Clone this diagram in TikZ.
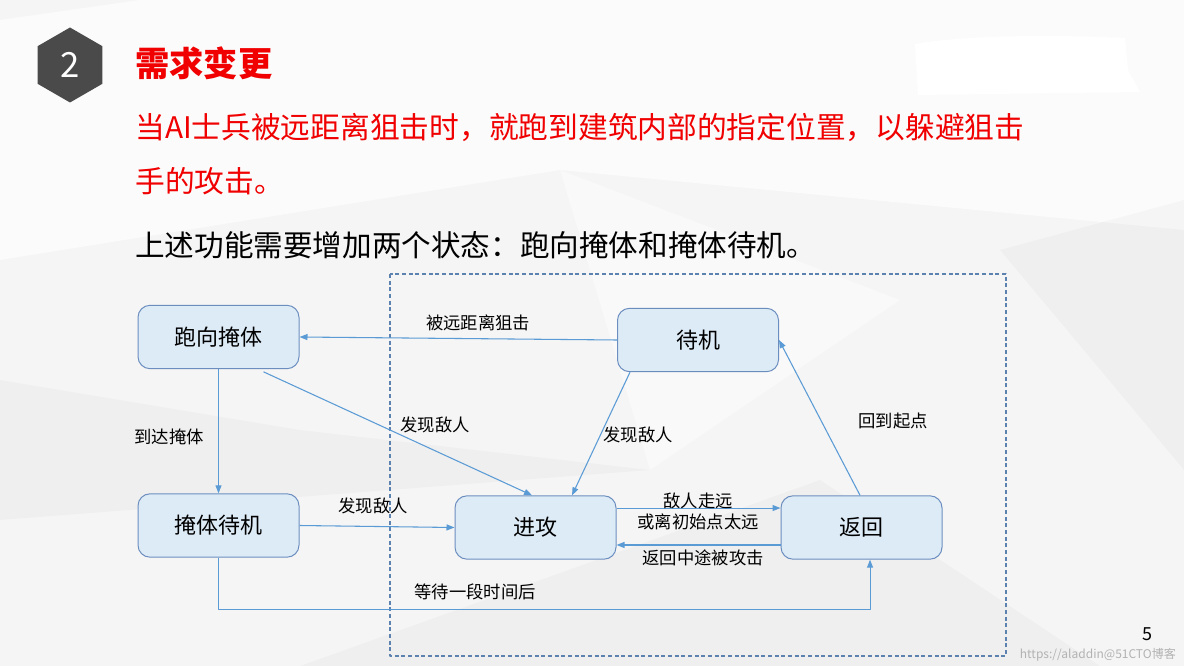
\documentclass[tikz,border=0pt]{standalone}
\usepackage{fontspec}
\setmainfont{Noto Sans CJK SC}
\usetikzlibrary{arrows.meta,shapes.geometric}

\definecolor{statefill}{HTML}{DDEBF7}
\definecolor{stateline}{HTML}{6C8EBF}
\definecolor{arrowblue}{HTML}{5B9BD5}
\definecolor{framecol}{HTML}{5E82B0}
\definecolor{titlered}{HTML}{F00000}
\definecolor{badgegray}{HTML}{4A4A4A}

\tikzset{
  state/.style={draw=stateline, fill=statefill, line width=0.75pt, rounded corners=9pt,
    minimum width=120.75pt, minimum height=47.5pt, font=\fontsize{16.5}{18}\selectfont},
  trans/.style={draw=arrowblue, line width=0.8pt, -{Triangle[length=6pt,width=4.5pt]}},
  lbl/.style={font=\fontsize{13}{15.75}\selectfont, inner sep=0pt, align=center},
  facet/.style={fill=black, opacity=0.025},
}

\begin{document}
\begin{tikzpicture}[x=0.75pt, y=-0.75pt, line join=round]
  % Page size in pixels
  \def\pw{1184} \def\ph{666}
  \useasboundingbox (0,0) rectangle (\pw,\ph);

  % Slide background
  \fill[white!96!black] (0,0) rectangle (\pw,\ph);
  \fill[white, opacity=0.6] (0,0) -- (\pw,0) -- (\pw,230) -- (560,170) -- (0,260) -- cycle;
  \fill[facet] (0,20) -- (140,0) -- (0,0) -- cycle;
  \fill[facet] (0,380) -- (300,430) -- (650,470) -- (0,520) -- cycle;
  \fill[facet] (1000,250) -- (\pw,200) -- (\pw,470) -- cycle;
  \fill[facet] (300,666) -- (820,480) -- (1100,666) -- cycle;
  \fill[white, opacity=0.4] (560,170) -- (900,300) -- (650,470) -- cycle;

  % Covered patch at top right
  \fill[white] (915,44) .. controls (960,36) and (1040,34) .. (1125,38)
    -- (1128,70) -- (1140,92) -- (918,95) -- cycle;

  % Section badge and heading
  \node[regular polygon, regular polygon sides=6, shape border rotate=30, fill=badgegray,
    minimum size=56.25pt, inner sep=0pt] (badge) at (70,65) {};
  \node[text=white, font=\fontsize{26}{28}\selectfont] (badgenum) at (badge.center) {2};
  \node[anchor=west, inner sep=0pt, text=titlered, font=\bfseries\fontsize{25.7}{28}\selectfont]
    (title) at (135,63) {需求变更};
  \node[anchor=west, inner sep=0pt, text=titlered, font=\fontsize{22.3}{24}\selectfont]
    (req1) at (135,128) {当AI士兵被远距离狙击时，就跑到建筑内部的指定位置，以躲避狙击};
  \node[anchor=west, inner sep=0pt, text=titlered, font=\fontsize{22.3}{24}\selectfont]
    (req2) at (135,181) {手的攻击。};
  \node[anchor=west, inner sep=0pt, font=\fontsize{22.2}{24}\selectfont]
    (intro) at (135,245) {上述功能需要增加两个状态：跑向掩体和掩体待机。};

  % Frame round the original states
  \draw[framecol, line width=0.8pt, dash pattern=on 3pt off 2pt] (390,274) rectangle (1006,656);

  % States
  \node[state] (paoxiang) at (218.5,337) {跑向掩体};
  \node[state] (daiji)    at (698,340)   {待机};
  \node[state] (yanti)    at (218.5,525.5) {掩体待机};
  \node[state] (jingong)  at (535.5,527.5) {进攻};
  \node[state] (fanhui)   at (861.5,527.5) {返回};

  % Transitions
  \draw[trans] (daiji.west) -- (paoxiang.east);
  \draw[trans] ([xshift=33.75pt,yshift=-2pt]paoxiang.south) -- ([xshift=-2.6pt]jingong.north);
  \draw[trans] ([xshift=-51pt]daiji.south) -- ([xshift=27.4pt]jingong.north);
  \draw[trans] (paoxiang.south) -- (yanti.north);
  \draw[trans] (yanti.east) -- (jingong.west);
  \draw[trans] ([yshift=14.6pt]jingong.east) -- ([yshift=14.6pt]fanhui.west);
  \draw[trans] ([yshift=-13.1pt]fanhui.west) -- ([yshift=-13.1pt]jingong.east);
  \draw[trans] (yanti.south) -- ++(0,52) -| ([xshift=6.4pt]fanhui.south);
  \draw[trans] ([xshift=-1.1pt]fanhui.north) -- (daiji.east);

  % Transition labels
  \node[lbl] (l1) at (478,323) {被远距离狙击};
  \node[lbl] (l2) at (435,425) {发现敌人};
  \node[lbl] (l3) at (638,435) {发现敌人};
  \node[lbl] (l4) at (169,437) {到达掩体};
  \node[lbl] (l5) at (373,506) {发现敌人};
  \node[lbl] (l6) at (698,511) {敌人走远\\或离初始点太远};
  \node[lbl] (l7) at (703,558) {返回中途被攻击};
  \node[lbl] (l8) at (475,592) {等待一段时间后};
  \node[lbl] (l9) at (893,421) {回到起点};

  % Page number and watermark
  \node[font=\fontsize{13.5}{15}\selectfont, inner sep=0pt] (pagenum) at (1147,634) {5};
  \node[anchor=east, text=black!30, font=\fontsize{9}{10}\selectfont, inner sep=0pt]
    (mark) at (1176,655) {https://aladdin@51CTO博客};
\end{tikzpicture}
\end{document}
